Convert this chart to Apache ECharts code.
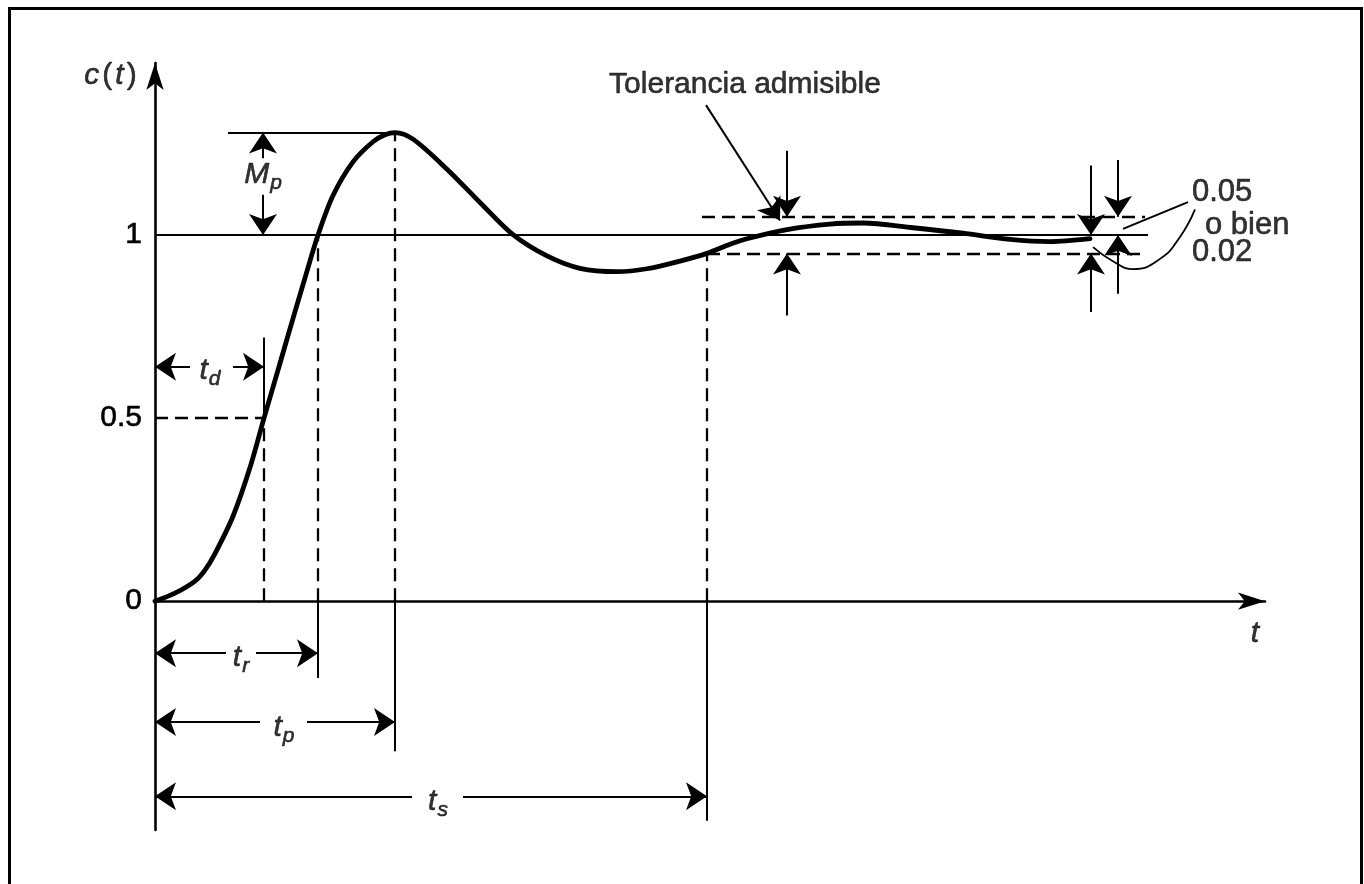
<!DOCTYPE html>
<html>
<head>
<meta charset="utf-8">
<script src="https://cdn.jsdelivr.net/npm/echarts@6/dist/echarts.min.js"></script>
<style>
  html, body { margin: 0; padding: 0; background: #fff; }
  #chart { width: 1364px; height: 884px; }
</style>
</head>
<body>
<div id="chart"></div>
<script>
// Unit-step response c(t) of an underdamped second-order system
const curveT = [0, 0.2, 0.4, 0.5, 0.6, 0.78, 0.95, 1.09, 1.25, 1.37, 1.50, 1.63, 1.78, 1.98, 2.18, 2.30, 2.40,
                2.58, 2.92, 3.25, 3.58, 3.92, 4.25, 4.62, 4.92, 5.25, 5.52, 5.75, 5.92, 6.32, 6.75, 7.08,
                7.58, 8.08, 8.55, 8.95, 9.35];
const curveC = [0, 0.022, 0.055, 0.085, 0.13, 0.232, 0.365, 0.50, 0.65, 0.763, 0.883, 1.00, 1.108, 1.20, 1.255, 1.274, 1.28,
                1.262, 1.18, 1.089, 1.001, 0.943, 0.909, 0.90, 0.908, 0.929, 0.95, 0.975, 0.99, 1.015, 1.03, 1.033,
                1.02, 1.005, 0.988, 0.982, 0.99];

// Characteristic times: delay, rise, peak, settling
const tD = 1.09, tR = 1.63, tP = 2.40, tS = 5.52;
// Characteristic levels
const halfC = 0.5, finalC = 1, peakC = 1.28, tolerance = 0.05;
const yTicks = [0, 0.5, 1];

// ---- annotation layout (data units) ----
const FONT = "'Liberation Sans', Arial, Helvetica, sans-serif";
const INK = '#000';
const bandStart = 5.47, bandEnd = 9.9, finalEnd = 9.93, peakLineStart = 0.73;
const mpX = 1.08;
const tolArrowX = 6.32, pairLX = 9.36, pairRX = 9.63;

const seg = (x1, y1, x2, y2) => ({ coords: [[x1, y1], [x2, y2]] });

// dashed construction lines
const dashedSegs = [
  seg(0, halfC, tD, halfC),
  seg(tD, 0, tD, halfC),
  seg(tR, 0, tR, finalC),
  seg(tP, 0, tP, peakC),
  seg(tS, 0, tS, finalC - tolerance),
  seg(bandStart, finalC + tolerance, bandEnd, finalC + tolerance),
  seg(tS, finalC - tolerance, bandEnd, finalC - tolerance)
];

// thin solid lines: final value, peak level, extension lines, leader
const solidSegs = [
  seg(0, finalC, finalEnd, finalC),
  seg(peakLineStart, peakC, tP, peakC),
  seg(tD, halfC, tD, 0.72),
  seg(tR, 0, tR, -0.21),
  seg(tP, 0, tP, -0.41),
  seg(tS, 0, tS, -0.60),
  seg(10.33, 1.09, 9.68, 1.017)
];

// dimension arrows, each drawn tail -> tip
const dims = [
  { t: tD, y: 0.64, gap: [0.35, 0.78] },
  { t: tR, y: -0.142, gap: [0.71, 1.01] },
  { t: tP, y: -0.33, gap: [1.05, 1.52] },
  { t: tS, y: -0.533, gap: [2.57, 3.08] }
];
const arrowSegs = [];
dims.forEach(d => {
  arrowSegs.push(seg(d.gap[0], d.y, 0, d.y));
  arrowSegs.push(seg(d.gap[1], d.y, d.t, d.y));
});
arrowSegs.push(
  seg(mpX, 1.21, mpX, peakC),
  seg(mpX, 1.11, mpX, finalC),
  seg(tolArrowX, 1.23, tolArrowX, finalC + tolerance),
  seg(tolArrowX, 0.78, tolArrowX, finalC - tolerance),
  seg(pairLX, 1.19, pairLX, finalC),
  seg(pairLX, 0.79, pairLX, finalC - tolerance),
  seg(pairRX, 1.205, pairRX, finalC + tolerance),
  seg(pairRX, 0.84, pairRX, finalC),
  seg(5.51, 1.355, 6.25, 1.04)
);

// curved leader from "0.02"
const leaderT = [10.4, 10.25, 10.05, 9.78, 9.6, 9.38];
const leaderC = [1.07, 0.995, 0.935, 0.907, 0.925, 0.967];

const sub = (main, s) => `{v|${main}}{s|${s}}`;
const labels = [
  { value: [-0.43, 1.435], formatter: '{v|c}{g|(}{v|t}{g|)}' },
  { value: [11.0, -0.09], formatter: '{v|t}' },
  { value: [mpX, 1.164], formatter: sub('M', 'p') },
  { value: [0.55, 0.63], formatter: sub('t', 'd') },
  { value: [0.86, -0.155], formatter: sub('t', 'r') },
  { value: [1.29, -0.345], formatter: sub('t', 'p') },
  { value: [2.83, -0.548], formatter: sub('t', 's') },
  { value: [5.9, 1.41], formatter: '{n|Tolerancia admisible}' },
  { value: [10.37, 1.117], formatter: '{m|0.05}', left: true },
  { value: [10.5, 1.027], formatter: '{m|o bien}', left: true },
  { value: [10.37, 0.953], formatter: '{m|0.02}', left: true }
];

const heavy = { textBorderColor: INK, textBorderWidth: 0.6 };

const chart = echarts.init(document.getElementById('chart'));

chart.setOption({
  backgroundColor: '#fff',
  animation: false,
  graphic: [{
    type: 'rect',
    shape: { x: 9.5, y: 8.5, width: 1352, height: 900 },
    style: { fill: 'none', stroke: INK, lineWidth: 3 },
    silent: true
  }],
  grid: { left: 155, right: 99, top: 63, bottom: 54 },
  xAxis: {
    type: 'value', min: 0, max: 11.1,
    axisLine: { show: true, onZero: true, symbol: ['none', 'arrow'], symbolSize: [13, 27],
                lineStyle: { color: INK, width: 2.6 } },
    axisTick: { show: false }, axisLabel: { show: false }, splitLine: { show: false }
  },
  yAxis: {
    type: 'value', min: -0.625, max: 1.47,
    axisLine: { show: true, onZero: true, symbol: ['none', 'arrow'], symbolSize: [13, 27],
                lineStyle: { color: INK, width: 2.6 } },
    axisTick: { show: false },
    splitLine: { show: false },
    axisLabel: Object.assign({
      show: true, customValues: yTicks, margin: 13,
      color: INK, fontSize: 30, fontFamily: FONT,
      formatter: v => String(v)
    }, heavy)
  },
  series: [
    {
      type: 'lines', coordinateSystem: 'cartesian2d', silent: true,
      symbol: ['none', 'none'],
      lineStyle: { color: INK, width: 2.3, type: [13, 7], opacity: 1 },
      data: dashedSegs
    },
    {
      type: 'lines', coordinateSystem: 'cartesian2d', silent: true,
      symbol: ['none', 'none'],
      lineStyle: { color: INK, width: 2, opacity: 1 },
      data: solidSegs
    },
    {
      type: 'lines', coordinateSystem: 'cartesian2d', silent: true,
      symbol: ['none', 'arrow'], symbolSize: [9, 21],
      itemStyle: { color: INK },
      lineStyle: { color: INK, width: 2, opacity: 1 },
      data: arrowSegs
    },
    {
      type: 'line', silent: true, smooth: 0.5, showSymbol: false, clip: false,
      lineStyle: { color: INK, width: 1.8 },
      data: leaderT.map((t, i) => [t, leaderC[i]])
    },
    {
      name: 'c(t)', type: 'line', silent: true, smooth: 0.3, showSymbol: false,
      lineStyle: { color: INK, width: 4.8, cap: 'round', join: 'round' },
      data: curveT.map((t, i) => [t, curveC[i]])
    },
    {
      type: 'scatter', silent: true, clip: false, symbolSize: 0,
      itemStyle: { color: 'transparent' },
      label: {
        show: true, color: INK, fontFamily: FONT,
        rich: {
          v: Object.assign({ fontSize: 30, fontStyle: 'italic', fontFamily: FONT, color: INK }, heavy),
          s: Object.assign({ fontSize: 21, fontStyle: 'italic', fontFamily: FONT, color: INK, padding: [17, 0, 0, 1] }, heavy),
          g: Object.assign({ fontSize: 30, fontFamily: FONT, color: INK, padding: [0, 3] }, heavy),
          n: Object.assign({ fontSize: 30, fontFamily: FONT, color: INK }, heavy),
          m: Object.assign({ fontSize: 31, fontFamily: FONT, color: INK }, heavy)
        }
      },
      data: labels.map(l => ({
        value: l.value,
        label: l.left
          ? { formatter: l.formatter, position: 'right', distance: 0 }
          : { formatter: l.formatter, position: 'inside' }
      }))
    }
  ]
});
</script>
</body>
</html>
